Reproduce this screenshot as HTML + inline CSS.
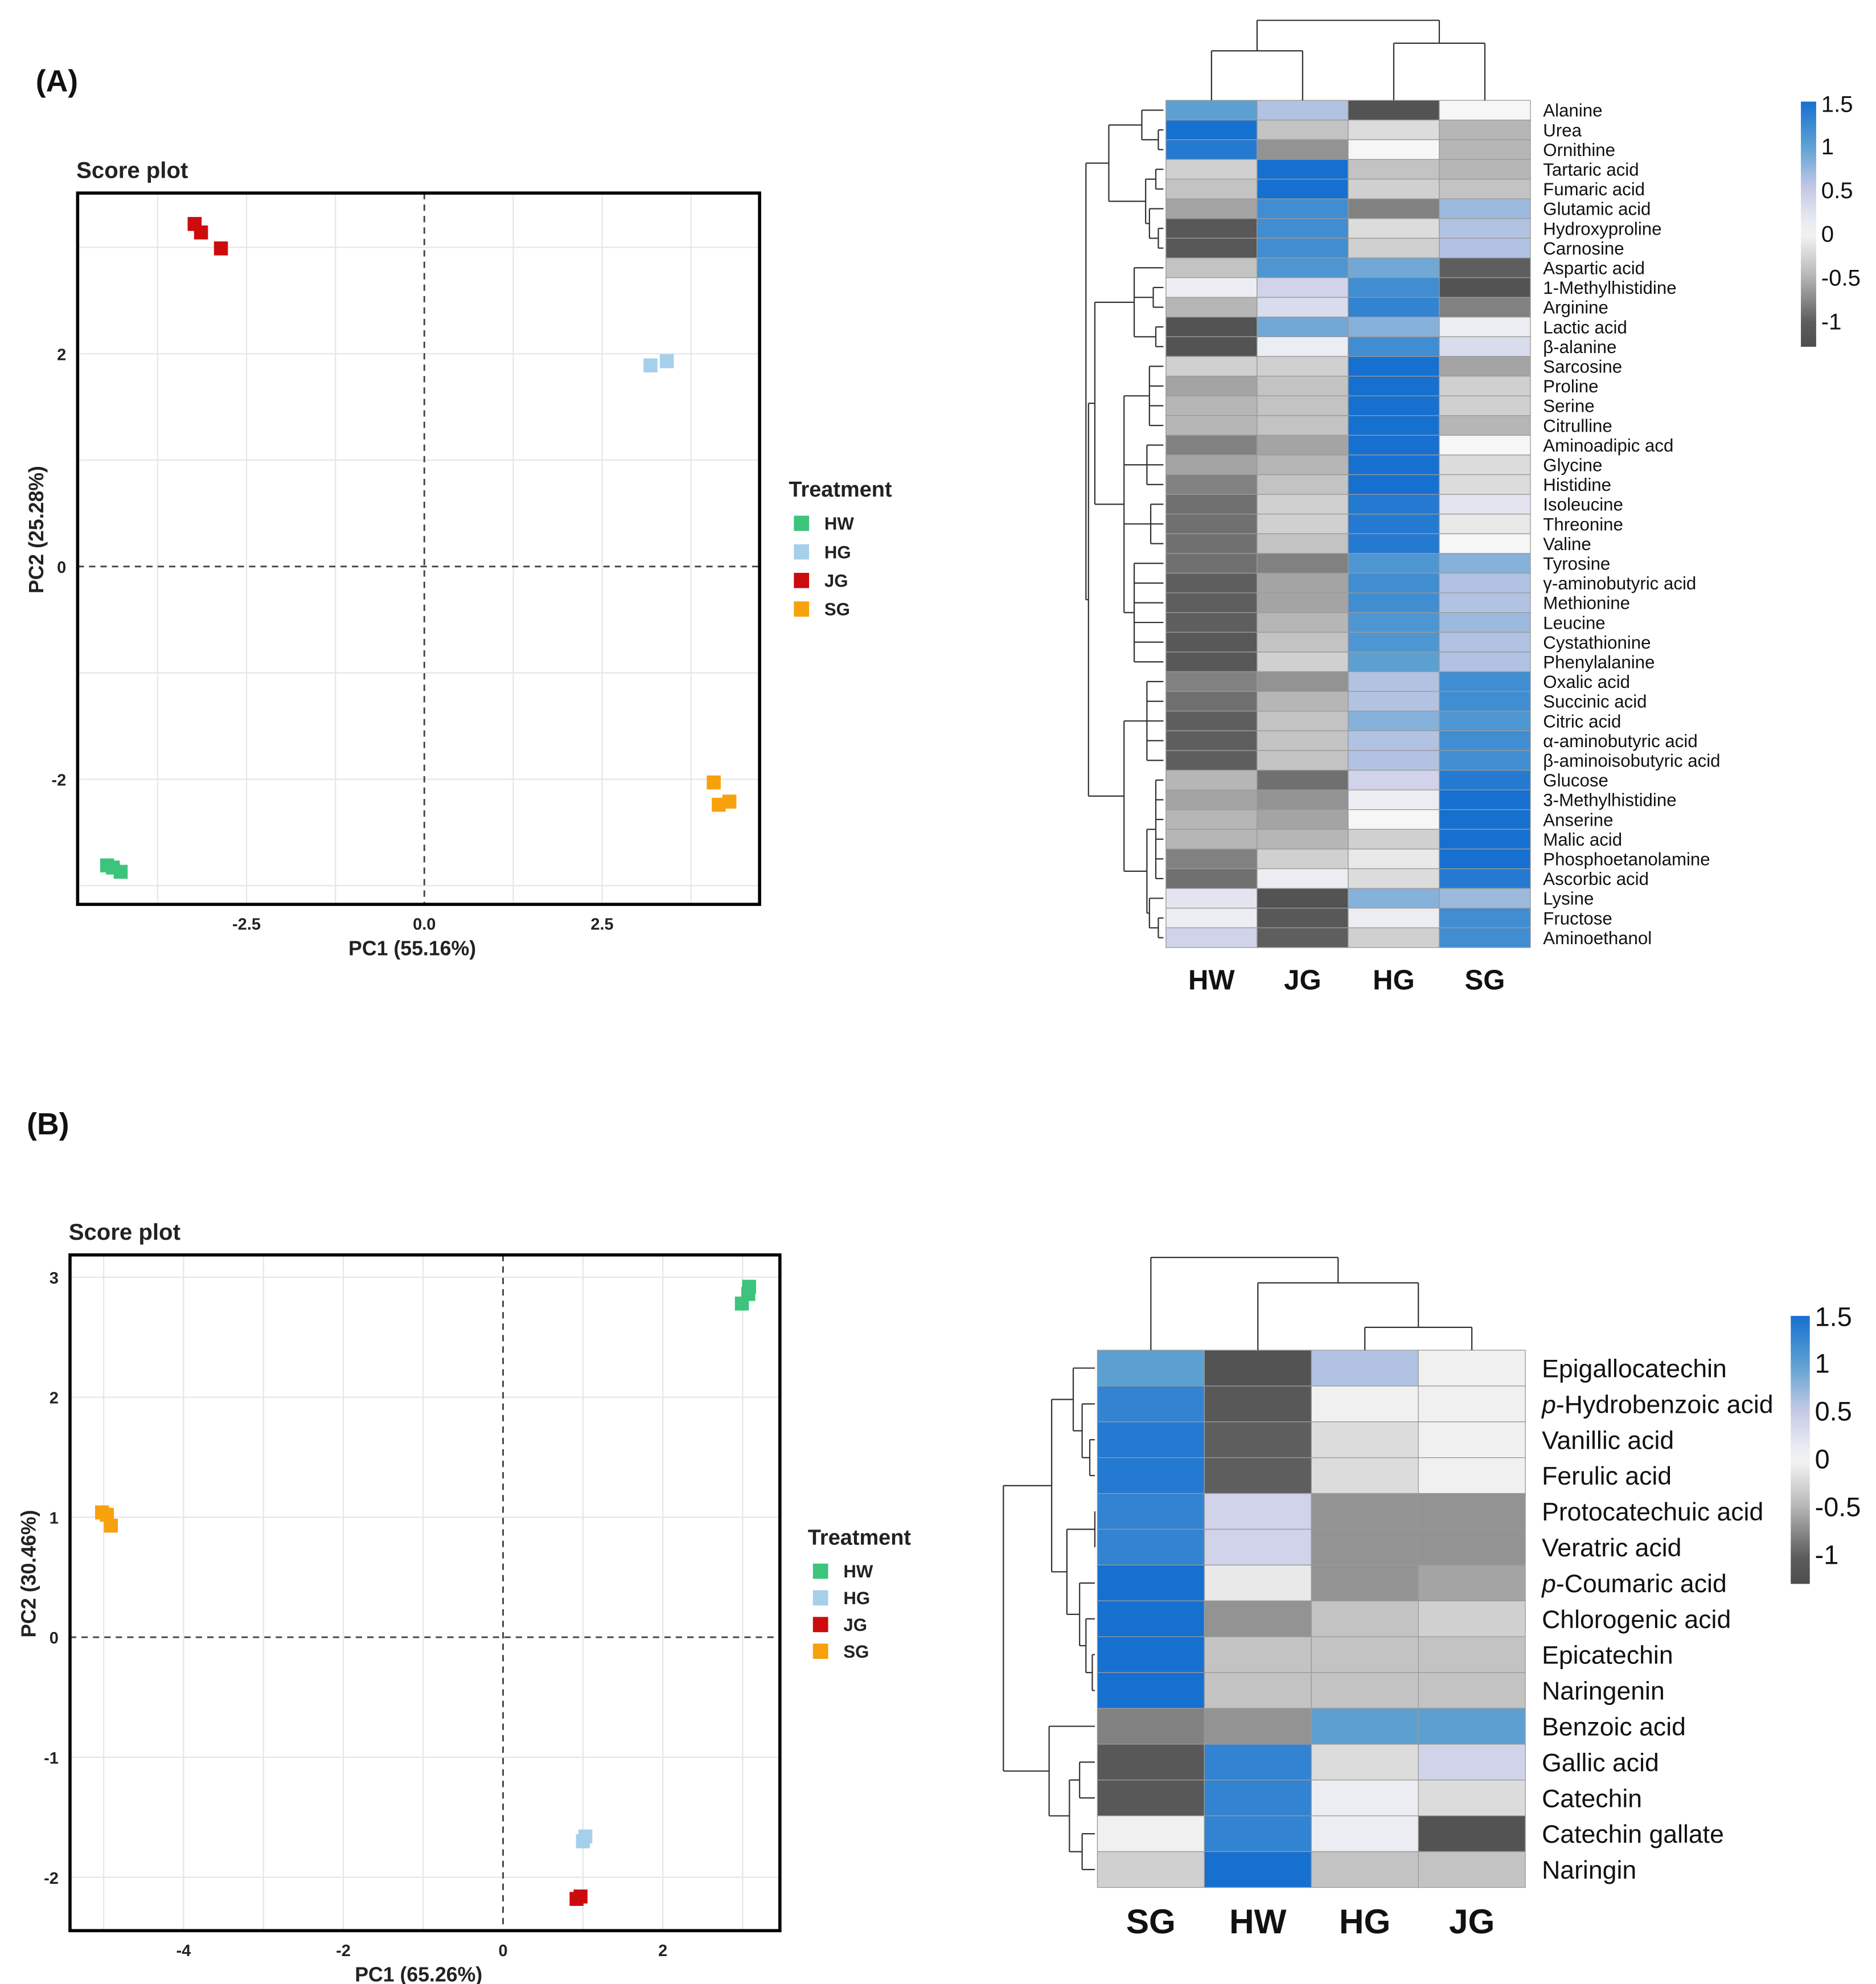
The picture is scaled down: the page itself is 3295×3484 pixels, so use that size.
<!DOCTYPE html>
<html><head><meta charset="utf-8">
<style>
html,body{margin:0;padding:0;background:#fff;}
svg{display:block;font-family:"Liberation Sans",Arial,sans-serif;}
</style></head>
<body>
<svg id="fig" width="3295" height="3484" viewBox="0 0 1477 1562" xmlns="http://www.w3.org/2000/svg">
<rect width="1477" height="1562" fill="#fff"/>
<g id="root"></g>
</svg>
<script>
// ---------- DATA ----------
const groups = ["HW","HG","JG","SG"];
const groupColors = ["#3cc47c","#a6cfec","#cc0c0c","#f7a10c"];
// Score plot A
const scoreA_x = [[-4.46,-4.38,-4.27],[3.18,3.41],[-3.23,-3.14,-2.86],[4.07,4.14,4.29]];
const scoreA_y = [[-2.81,-2.83,-2.87],[1.89,1.93],[3.22,3.14,2.99],[-2.03,-2.24,-2.21]];
const scoreA_xticks = [-2.5,0.0,2.5];
const scoreA_yticks = [-2,0,2];
// Score plot B
const scoreB_x = [[3.08,3.07,2.99],[1.03,1.0],[0.92,0.97],[-5.02,-4.96,-4.91]];
const scoreB_y = [[2.92,2.86,2.78],[-1.66,-1.70],[-2.18,-2.16],[1.04,1.02,0.93]];
const scoreB_xticks = [-4,-2,0,2];
const scoreB_yticks = [-2,-1,0,1,2,3];
// Heatmap A
const heatA_cols = ["HW","JG","HG","SG"];
const heatA_rows = ["Alanine","Urea","Ornithine","Tartaric acid","Fumaric acid","Glutamic acid","Hydroxyproline","Carnosine","Aspartic acid","1-Methylhistidine","Arginine","Lactic acid","β-alanine","Sarcosine","Proline","Serine","Citrulline","Aminoadipic acd","Glycine","Histidine","Isoleucine","Threonine","Valine","Tyrosine","γ-aminobutyric acid","Methionine","Leucine","Cystathionine","Phenylalanine","Oxalic acid","Succinic acid","Citric acid","α-aminobutyric acid","β-aminoisobutyric acid","Glucose","3-Methylhistidine","Anserine","Malic acid","Phosphoetanolamine","Ascorbic acid","Lysine","Fructose","Aminoethanol"];
const heatA_vals = [
[1.0,0.6,-1.2,0],[1.5,-0.4,-0.2,-0.5],[1.4,-0.7,0,-0.5],[-0.3,1.5,-0.4,-0.5],[-0.4,1.5,-0.3,-0.4],
[-0.6,1.2,-0.8,0.7],[-1.1,1.2,-0.2,0.6],[-1.1,1.2,-0.3,0.6],[-0.4,1.1,0.9,-1.0],[0.1,0.4,1.2,-1.2],
[-0.5,0.3,1.3,-0.8],[-1.2,0.9,0.8,0.1],[-1.2,0.1,1.2,0.3],[-0.3,-0.3,1.5,-0.6],[-0.6,-0.4,1.5,-0.3],
[-0.5,-0.4,1.5,-0.3],[-0.5,-0.4,1.5,-0.5],[-0.8,-0.6,1.5,0],[-0.6,-0.5,1.5,-0.2],[-0.8,-0.4,1.5,-0.2],
[-0.9,-0.3,1.4,0.2],[-0.9,-0.3,1.4,-0.1],[-0.9,-0.4,1.4,0],[-0.9,-0.8,1.1,0.8],[-1.0,-0.6,1.2,0.6],
[-1.0,-0.6,1.2,0.6],[-1.0,-0.5,1.1,0.7],[-1.1,-0.4,1.1,0.6],[-1.1,-0.3,1.0,0.6],[-0.8,-0.7,0.6,1.2],
[-0.9,-0.5,0.6,1.2],[-1.0,-0.4,0.8,1.1],[-1.0,-0.4,0.6,1.2],[-1.0,-0.4,0.6,1.2],[-0.5,-0.9,0.4,1.4],
[-0.6,-0.7,0.1,1.5],[-0.5,-0.6,0,1.5],[-0.5,-0.5,-0.3,1.5],[-0.8,-0.3,-0.1,1.5],[-0.9,0.1,-0.2,1.4],
[0.2,-1.2,0.8,0.7],[0.1,-1.1,0.1,1.2],[0.4,-1.0,-0.3,1.2]];
// Heatmap B
const heatB_cols = ["SG","HW","HG","JG"];
const heatB_rows = ["Epigallocatechin","p-Hydrobenzoic acid","Vanillic acid","Ferulic acid","Protocatechuic acid","Veratric acid","p-Coumaric acid","Chlorogenic acid","Epicatechin","Naringenin","Benzoic acid","Gallic acid","Catechin","Catechin gallate","Naringin"];
const heatB_vals = [
[1.0,-1.2,0.6,-0.05],[1.3,-1.1,-0.05,-0.05],[1.4,-1.0,-0.2,-0.05],[1.4,-1.0,-0.2,-0.05],[1.3,0.4,-0.7,-0.7],
[1.3,0.4,-0.7,-0.7],[1.5,-0.1,-0.7,-0.6],[1.5,-0.7,-0.4,-0.3],[1.5,-0.4,-0.4,-0.4],[1.5,-0.4,-0.4,-0.4],
[-0.8,-0.7,1.0,1.0],[-1.1,1.3,-0.2,0.4],[-1.1,1.3,0.1,-0.2],[-0.05,1.3,0.1,-1.2],[-0.3,1.5,-0.4,-0.4]];
const legendTicks = [1.5,1,0.5,0,-0.5,-1];

// ---------- HELPERS ----------
const NS="http://www.w3.org/2000/svg";
const root=document.getElementById('root');
function el(tag,attrs,parent){const e=document.createElementNS(NS,tag);for(const k in attrs)e.setAttribute(k,attrs[k]);(parent||root).appendChild(e);return e;}
function txt(s,attrs,parent){const e=el('text',attrs,parent);e.textContent=s;return e;}
const stops=[[-1.3,[77,77,77]],[-1,[94,94,94]],[-0.5,[182,182,182]],[0,[246,246,246]],[0.5,[198,202,230]],[1,[92,160,210]],[1.5,[22,112,208]]];
function color(v){if(v<=stops[0][0])return 'rgb('+stops[0][1]+')';for(let i=1;i<stops.length;i++){if(v<=stops[i][0]){const a=stops[i-1],b=stops[i];const t=(v-a[0])/(b[0]-a[0]);return 'rgb('+a[1].map((c,j)=>Math.round(c+(b[1][j]-c)*t)).join(',')+')';}}return 'rgb('+stops[stops.length-1][1]+')';}

// ---------- SCORE PLOT ----------
function scorePlot(cfg,xs,ys,xticks,yticks,prefix){
  const g=el('g',{});
  
  
  const X=v=>cfg.x0+(v-cfg.xv0)*cfg.sx, Y=v=>cfg.y0-(v-cfg.yv0)*cfg.sy;
  for(const v of cfg.gridX){const l=el('line',{x1:X(v),x2:X(v),y1:cfg.top,y2:cfg.bot,stroke:'#e6e6e6','stroke-width':1},g);}
  for(const v of cfg.gridY){const l=el('line',{x1:cfg.left,x2:cfg.right,y1:Y(v),y2:Y(v),stroke:'#e6e6e6','stroke-width':1},g);}
  const z1=el('line',{x1:X(0),x2:X(0),y1:cfg.top,y2:cfg.bot,stroke:'#444','stroke-width':1.3,'stroke-dasharray':'5,4'},g);
  
  const z2=el('line',{x1:cfg.left,x2:cfg.right,y1:Y(0),y2:Y(0),stroke:'#444','stroke-width':1.3,'stroke-dasharray':'5,4'},g);
  
  for(let gi=0;gi<xs.length;gi++)for(let i=0;i<xs[gi].length;i++){
    const r=el('rect',{x:X(xs[gi][i])-5.5,y:Y(ys[gi][i])-5.5,width:11,height:11,fill:groupColors[gi]},g);
    
    
  }
  const fr=el('rect',{x:cfg.left,y:cfg.top,width:cfg.right-cfg.left,height:cfg.bot-cfg.top,fill:'none',stroke:'#000','stroke-width':2.5},g);
  
  for(const v of xticks){const t=txt(cfg.fmtX(v),{x:X(v),y:cfg.bot+20,'font-size':13,'font-weight':'bold','text-anchor':'middle',fill:'#222'},g);}
  for(const v of yticks){const t=txt(String(v),{x:cfg.left-9,y:Y(v)+5,'font-size':13,'font-weight':'bold','text-anchor':'end',fill:'#222'},g);}
  const xt=txt(cfg.xTitle,{x:(cfg.left+cfg.right)/2-5,y:cfg.bot+40,'font-size':16,'font-weight':'bold','text-anchor':'middle',fill:'#222'},g);
  
  const yt=txt(cfg.yTitle,{x:0,y:0,'font-size':16,'font-weight':'bold','text-anchor':'middle',fill:'#222',transform:'translate('+(cfg.left-27)+','+((cfg.top+cfg.bot)/2-15)+') rotate(-90)'},g);
  
  const tt=txt('Score plot',{x:cfg.left-1,y:cfg.top-12,'font-size':18,'font-weight':'bold',fill:'#222'},g);
  
  // legend
  const lg=el('g',{},g);
  const lt=txt('Treatment',{x:cfg.legX,y:cfg.legY,'font-size':17,'font-weight':'bold',fill:'#222'},lg);
  
  for(let i=0;i<groups.length;i++){
    const e=el('g',{},lg);
    el('rect',{x:cfg.legX+4,y:cfg.legY+20+i*cfg.legStep-5,width:12,height:12,fill:groupColors[i]},e);
    txt(groups[i],{x:cfg.legX+28,y:cfg.legY+20+i*cfg.legStep+6,'font-size':14,'font-weight':'bold',fill:'#222'},e);
  }
}
scorePlot({left:61,right:598,top:152,bot:712,x0:334,xv0:0,sx:56,y0:446,yv0:0,sy:83.75,
  gridX:[-3.75,-2.5,-1.25,1.25,2.5,3.75],gridY:[-3,-2,-1,1,2,3],fmtX:v=>v.toFixed(1),
  xTitle:'PC1 (55.16%)',yTitle:'PC2 (25.28%)',legX:621,legY:391,legStep:22.5},scoreA_x,scoreA_y,scoreA_xticks,scoreA_yticks,'a');
scorePlot({left:55,right:614,top:988,bot:1520,x0:396,xv0:0,sx:62.9,y0:1289,yv0:0,sy:94.5,
  gridX:[-5,-4,-3,-2,-1,1,2,3],gridY:[-2,-1,1,2,3],fmtX:v=>String(v),
  xTitle:'PC1 (65.26%)',yTitle:'PC2 (30.46%)',legX:636,legY:1216,legStep:21},scoreB_x,scoreB_y,scoreB_xticks,scoreB_yticks,'b');

const la=txt('(A)',{x:28,y:72,'font-size':24,'font-weight':'bold',fill:'#111'});
const lb=txt('(B)',{x:21,y:893,'font-size':24,'font-weight':'bold',fill:'#111'});

// ---------- HEATMAP ----------
function heatmap(cfg,cols,rows,vals,prefix){
  const g=el('g',{});
  const cw=(cfg.right-cfg.left)/cols.length, rh=(cfg.bot-cfg.top)/rows.length;
  for(let r=0;r<rows.length;r++){
    for(let c=0;c<cols.length;c++){
      const cell=el('rect',{x:cfg.left+c*cw,y:cfg.top+r*rh,width:cw,height:rh,fill:color(vals[r][c]),stroke:'#9a9a9a','stroke-width':0.6},g);
      
    }
    const lab=rows[r];const t=el('text',{x:cfg.right+cfg.labDx,y:cfg.top+(r+0.5)*rh+cfg.fs*0.36,'font-size':cfg.fs,fill:'#111'},g);
    if(lab.startsWith('p-')){const ts=el('tspan',{'font-style':'italic'},t);ts.textContent='p';const t2=el('tspan',{},t);t2.textContent=lab.slice(1);}else t.textContent=lab;
    
  }
  for(let c=0;c<cols.length;c++){const t=txt(cols[c],{x:cfg.left+(c+0.5)*cw,y:cfg.bot+cfg.colDy,'font-size':cfg.colFs,'font-weight':'bold','text-anchor':'middle',fill:'#111'},g);}
  // column dendrogram
  const cx=i=>cfg.left+(i+0.5)*cw;
  const dg=el('g',{stroke:'#333','stroke-width':1,fill:'none'},g);
  function drawTree(node,horizontal){ // returns pos, height
    if(typeof node==='number')return horizontal?{p:cfg.top+(node+0.5)*rh,h:cfg.left-2}:{p:cx(node),h:cfg.top};
    const ch=node.c.map(n=>drawTree(n,horizontal));
    const ps=ch.map(o=>o.p);const mn=Math.min(...ps),mx=Math.max(...ps);
    for(const o of ch){ if(horizontal)el('line',{x1:node.h,x2:o.h,y1:o.p,y2:o.p},dg2);else el('line',{x1:o.p,x2:o.p,y1:node.h,y2:o.h},dg);}
    if(horizontal)el('line',{x1:node.h,x2:node.h,y1:mn,y2:mx},dg2);else el('line',{x1:mn,x2:mx,y1:node.h,y2:node.h},dg);
    return {p:(mn+mx)/2,h:node.h};
  }
  const dg2=el('g',{stroke:'#333','stroke-width':1,fill:'none'},g);
  drawTree(cfg.colTree,false);
  drawTree(cfg.rowTree,true);
  // legend
  const lg=el('g',{},g);
  const gid='grad'+prefix;const defs=el('defs',{},lg);const gr=el('linearGradient',{id:gid,x1:0,y1:0,x2:0,y2:1},defs);
  const vmax=1.5,vmin=cfg.legMin;
  for(let i=0;i<=20;i++){const v=vmax-(vmax-vmin)*i/20;el('stop',{offset:(i/20),'stop-color':color(v)},gr);}
  el('rect',{x:cfg.legX,y:cfg.legTop,width:cfg.legW,height:cfg.legBot-cfg.legTop,fill:'url(#'+gid+')'},lg);
  const LY=v=>cfg.legTop+(vmax-v)/(vmax-vmin)*(cfg.legBot-cfg.legTop);
  for(const v of legendTicks){const t=txt(String(v),{x:cfg.legX+cfg.legW+4,y:Math.max(LY(v)+7,cfg.legTop+8),'font-size':cfg.legFs,fill:'#111'},lg);}
}
function chain(h,ids){return {h:h,c:ids};}
heatmap({left:918,right:1205,top:79,bot:746,fs:14,labDx:10,colFs:22,colDy:33,
  legX:1418,legW:12,legTop:80,legBot:273,legMin:-1.3,legFs:18,
  colTree:{h:16,c:[{h:40,c:[0,1]},{h:34,c:[2,3]}]},
  rowTree:{h:855,c:[
    {h:873,c:[{h:899,c:[0,{h:912,c:[1,2]}]},{h:902,c:[{h:910,c:[3,4]},{h:905,c:[5,{h:912,c:[6,7]}]}]}]},
    {h:857,c:[
      {h:862,c:[{h:893,c:[8,{h:908,c:[9,10]},{h:910,c:[11,12]}]},
                {h:885,c:[{h:905,c:[13,14,15,16]},{h:903,c:[17,18,19]},{h:906,c:[20,21,22]},{h:893,c:[23,24,25,26,27,28]}]}]},
      {h:885,c:[{h:903,c:[29,30,31,32,33]},{h:903,c:[{h:910,c:[34,35,36,37,38,39]},{h:905,c:[40,{h:912,c:[41,42]}]}]}]}]}]}
},heatA_cols,heatA_rows,heatA_vals,'a');
heatmap({left:864,right:1201,top:1063,bot:1486,fs:20,labDx:13,colFs:27,colDy:36,
  legX:1410,legW:15,legTop:1036,legBot:1247,legMin:-1.3,legFs:21,
  colTree:{h:990,c:[0,{h:1010,c:[1,{h:1045,c:[2,3]}]}]},
  rowTree:{h:790,c:[
    {h:828,c:[{h:845,c:[0,{h:852,c:[1,{h:858,c:[2,3]}]}]},{h:840,c:[{h:862,c:[4,5]},{h:850,c:[6,{h:855,c:[7,{h:860,c:[8,9]}]}]}]}]},
    {h:826,c:[10,{h:842,c:[{h:850,c:[11,12]},{h:852,c:[13,14]}]}]}]}
},heatB_cols,heatB_rows,heatB_vals,'b');
</script>
</body></html>
